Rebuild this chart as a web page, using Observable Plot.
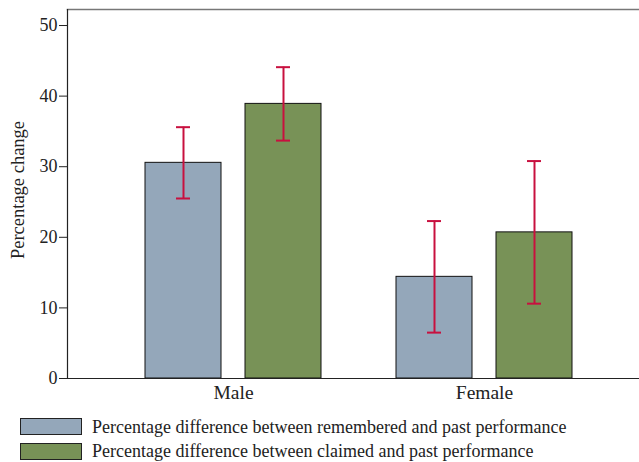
<!DOCTYPE html>
<html>
<head>
<meta charset="utf-8">
<script src="https://cdn.jsdelivr.net/npm/d3@7"></script>
<script src="https://cdn.jsdelivr.net/npm/@observablehq/plot@0.6"></script>
<style>
  body { margin: 0; background: #fff; font-family: "Liberation Serif", "Times New Roman", serif; overflow: hidden; }
  #chart { height: 405px; }
  #legend { position: absolute; left: 20px; top: 414.5px; font-size: 18px; color: #222; }
  .row { display: flex; align-items: center; height: 24.5px; line-height: 20px; white-space: nowrap; }
  .sw { width: 60px; height: 15px; border: 1px solid #222; margin-right: 10px; flex: none; }
  #chart g[aria-label="y-axis tick label"] { font-size: 18px; }
  #chart g[aria-label="x-axis tick label"] { font-size: 19.5px; }
  #chart g[aria-label="text"] { font-size: 18.5px; }
</style>
</head>
<body>
<div id="chart"></div>
<div id="legend"></div>
<script>
const sexes = ["Male", "Female"];
const seriesNames = [
  "Percentage difference between remembered and past performance",
  "Percentage difference between claimed and past performance"
];
const yLabel = "Percentage change";
const remembered = [30.55, 14.4];
const rememberedErr = [5.05, 7.9];
const claimed = [38.9, 20.7];
const claimedErr = [5.2, 10.1];
const yTicks = [0, 10, 20, 30, 40, 50];
const yMax = 52.27;
const colors = ["#94a7ba", "#789257"];
const errColor = "#c8103f";

const rem = sexes.map((s, i) => ({sex: s, value: remembered[i], err: rememberedErr[i]}));
const cla = sexes.map((s, i) => ({sex: s, value: claimed[i], err: claimedErr[i]}));

const plot = Plot.plot({
  width: 639,
  height: 405,
  marginLeft: 67,
  marginRight: 0,
  marginTop: 9,
  marginBottom: 27,
  style: {fontFamily: "'Liberation Serif', 'Times New Roman', serif", color: "#222", overflow: "visible"},
  x: {domain: sexes, paddingInner: 0.3, paddingOuter: 0.288, align: 0.537, label: null},
  y: {domain: [0, yMax], label: null},
  marks: [
    Plot.frame({anchor: "top", stroke: "#777", strokeWidth: 1.5}),
    Plot.barY(rem, {x: "sex", y: "value", fill: colors[0], stroke: "#111", strokeWidth: 1, insetRight: 100}),
    Plot.barY(cla, {x: "sex", y: "value", fill: colors[1], stroke: "#111", strokeWidth: 1, insetLeft: 100}),
    Plot.ruleX(rem, {x: "sex", y1: d => d.value - d.err, y2: d => d.value + d.err, dx: -50, stroke: errColor, strokeWidth: 2}),
    Plot.ruleX(cla, {x: "sex", y1: d => d.value - d.err, y2: d => d.value + d.err, dx: 50, stroke: errColor, strokeWidth: 2}),
    Plot.tickY(rem, {x: "sex", y: d => d.value + d.err, insetLeft: 31, insetRight: 131, stroke: errColor, strokeWidth: 2}),
    Plot.tickY(rem, {x: "sex", y: d => d.value - d.err, insetLeft: 31, insetRight: 131, stroke: errColor, strokeWidth: 2}),
    Plot.tickY(cla, {x: "sex", y: d => d.value + d.err, insetLeft: 131, insetRight: 31, stroke: errColor, strokeWidth: 2}),
    Plot.tickY(cla, {x: "sex", y: d => d.value - d.err, insetLeft: 131, insetRight: 31, stroke: errColor, strokeWidth: 2}),
    Plot.ruleY([0], {stroke: "#222", strokeWidth: 1.2}),
    Plot.frame({anchor: "left", stroke: "#222", strokeWidth: 1.2}),
    Plot.axisY({ticks: yTicks, tickSize: 8, tickPadding: 2, label: null}),
    Plot.axisX({tickSize: 0, tickPadding: 7, label: null}),
    Plot.text([yLabel], {text: d => d, frameAnchor: "left", textAnchor: "middle", rotate: -90, dx: -49, dy: -4, fill: "#222"})
  ]
});
document.getElementById("chart").appendChild(plot);

const legend = document.getElementById("legend");
seriesNames.forEach((name, i) => {
  const row = document.createElement("div");
  row.className = "row";
  const sw = document.createElement("div");
  sw.className = "sw";
  sw.style.background = colors[i];
  const t = document.createElement("span");
  t.textContent = name;
  row.appendChild(sw);
  row.appendChild(t);
  legend.appendChild(row);
});
</script>
</body>
</html>
